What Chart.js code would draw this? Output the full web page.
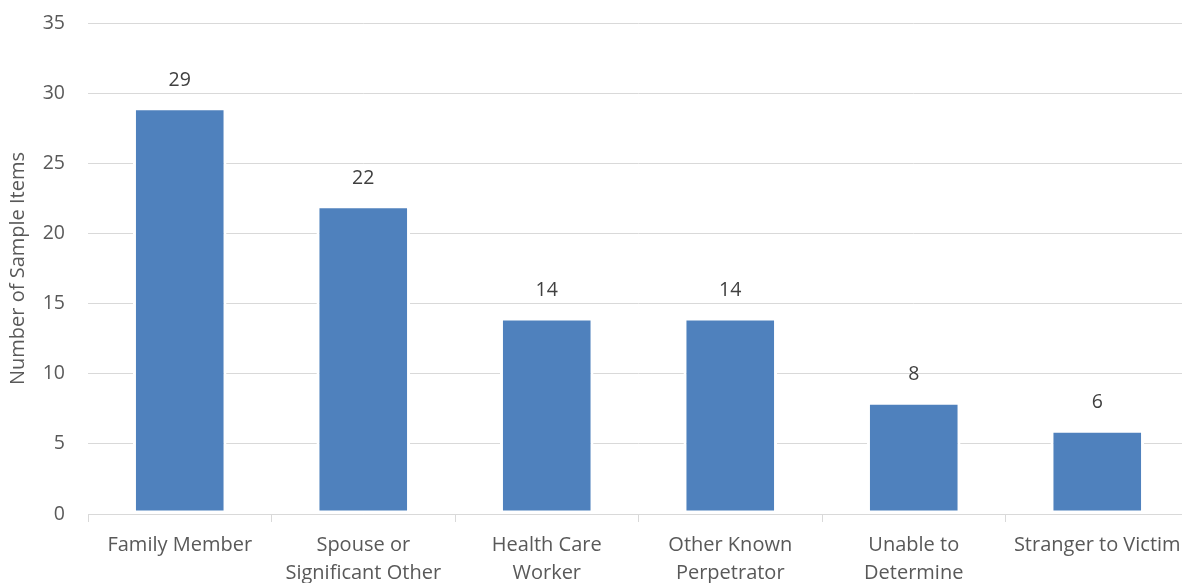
<!DOCTYPE html>
<html>
<head>
<meta charset="utf-8">
<script src="https://cdn.jsdelivr.net/npm/chart.js@4"></script>
<style>
  html, body { margin: 0; padding: 0; background: #fff; overflow: hidden; }
  #wrap { width: 1200px; height: 600px; }
</style>
</head>
<body>
<div id="wrap"><canvas id="chart" width="1200" height="600"></canvas></div>
<script>
const categories = [
  ["Family Member"],
  ["Spouse or", "Significant Other"],
  ["Health Care", "Worker"],
  ["Other Known", "Perpetrator"],
  ["Unable to", "Determine"],
  ["Stranger to Victim"]
];
const sampleItems = [29, 22, 14, 14, 8, 6];
const yTicks = { min: 0, max: 35, step: 5 };

const FONT = "'Open Sans', 'Noto Sans', sans-serif";

// value labels above each bar
const barValues = {
  id: 'barValues',
  afterDatasetsDraw(chart) {
    const ctx = chart.ctx;
    const meta = chart.getDatasetMeta(0);
    ctx.save();
    ctx.font = "19.5px " + FONT;
    ctx.fillStyle = '#404040';
    ctx.textAlign = 'center';
    ctx.textBaseline = 'middle';
    meta.data.forEach((bar, i) => {
      ctx.fillText(sampleItems[i], bar.x, bar.y - 27);
    });
    ctx.restore();
  }
};

new Chart(document.getElementById("chart"), {
  type: 'bar',
  data: {
    labels: categories,
    datasets: [{
      data: sampleItems,
      backgroundColor: '#4F81BD',
      borderColor: '#ffffff',
      borderWidth: 3,
      borderSkipped: false,
      barPercentage: 0.51,
      categoryPercentage: 1
    }]
  },
  options: {
    responsive: false,
    animation: false,
    layout: { padding: { top: 23, right: 11, left: 0, bottom: 0 } },
    plugins: {
      legend: { display: false },
      tooltip: { enabled: false }
    },
    scales: {
      y: {
        min: yTicks.min,
        max: yTicks.max,
        ticks: {
          stepSize: yTicks.step,
          color: '#595959',
          padding: 23,
          font: { family: FONT, size: 19.5 }
        },
        grid: { color: '#d9d9d9', lineWidth: 1, drawTicks: false },
        border: { display: false },
        title: {
          display: true,
          text: 'Number of Sample Items',
          color: '#595959',
          font: { family: FONT, size: 20 },
          padding: { top: 6, bottom: 0 }
        },
        afterFit(scale) {
          scale.width = 88;
          // the wide tick padding should not push the plot area down
          scale.paddingTop = 0;
          scale.paddingBottom = 0;
        }
      },
      x: {
        offset: true,
        ticks: {
          color: '#595959',
          maxRotation: 0,
          autoSkip: false,
          padding: 9,
          font: { family: FONT, size: 20, lineHeight: '28px' }
        },
        grid: {
          offset: true,
          drawOnChartArea: false,
          color: '#d9d9d9',
          tickLength: 8
        },
        border: { display: true, color: '#d9d9d9', width: 1 },
        afterFit(scale) { scale.height = 86; }
      }
    }
  },
  plugins: [barValues]
});
</script>
</body>
</html>
